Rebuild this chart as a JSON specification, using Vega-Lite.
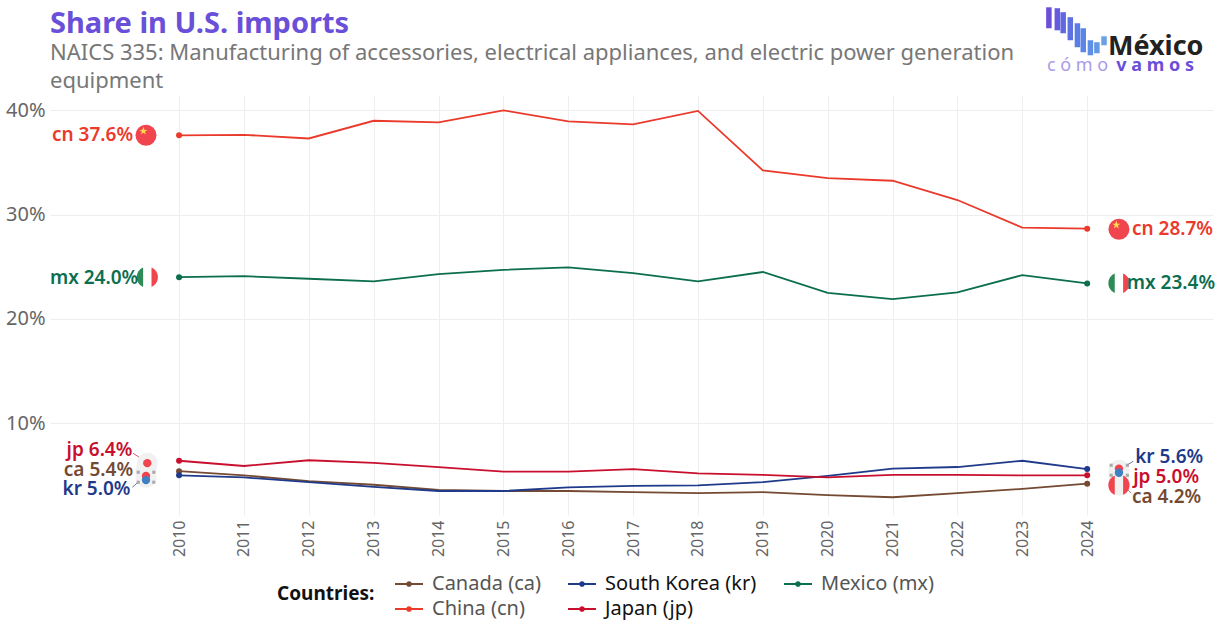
{"$schema":"https://vega.github.io/schema/vega-lite/v6.json","width":1163,"height":420,"autosize":"none","padding":{"left":50,"top":95,"right":12,"bottom":108},"background":"white","config":{"font":"Noto Sans","view":{"stroke":null}},"title":{"text":"Share in U.S. imports","subtitle":["NAICS 335: Manufacturing of accessories, electrical appliances, and electric power generation","equipment"],"anchor":"start","frame":"group","fontSize":29,"fontWeight":"bold","color":"#6a4fd8","subtitleFontSize":22,"subtitleColor":"#777777","subtitleFontWeight":"normal","subtitleLineHeight":28,"subtitlePadding":4,"offset":-87},"datasets":{"series":[{"year":2010,"share":37.6,"country":"China (cn)"},{"year":2011,"share":37.65,"country":"China (cn)"},{"year":2012,"share":37.3,"country":"China (cn)"},{"year":2013,"share":39.0,"country":"China (cn)"},{"year":2014,"share":38.85,"country":"China (cn)"},{"year":2015,"share":40.0,"country":"China (cn)"},{"year":2016,"share":38.95,"country":"China (cn)"},{"year":2017,"share":38.65,"country":"China (cn)"},{"year":2018,"share":39.95,"country":"China (cn)"},{"year":2019,"share":34.25,"country":"China (cn)"},{"year":2020,"share":33.5,"country":"China (cn)"},{"year":2021,"share":33.25,"country":"China (cn)"},{"year":2022,"share":31.4,"country":"China (cn)"},{"year":2023,"share":28.75,"country":"China (cn)"},{"year":2024,"share":28.65,"country":"China (cn)"},{"year":2010,"share":24.0,"country":"Mexico (mx)"},{"year":2011,"share":24.1,"country":"Mexico (mx)"},{"year":2012,"share":23.85,"country":"Mexico (mx)"},{"year":2013,"share":23.6,"country":"Mexico (mx)"},{"year":2014,"share":24.3,"country":"Mexico (mx)"},{"year":2015,"share":24.7,"country":"Mexico (mx)"},{"year":2016,"share":24.95,"country":"Mexico (mx)"},{"year":2017,"share":24.4,"country":"Mexico (mx)"},{"year":2018,"share":23.6,"country":"Mexico (mx)"},{"year":2019,"share":24.5,"country":"Mexico (mx)"},{"year":2020,"share":22.5,"country":"Mexico (mx)"},{"year":2021,"share":21.9,"country":"Mexico (mx)"},{"year":2022,"share":22.55,"country":"Mexico (mx)"},{"year":2023,"share":24.2,"country":"Mexico (mx)"},{"year":2024,"share":23.4,"country":"Mexico (mx)"},{"year":2010,"share":5.4,"country":"Canada (ca)"},{"year":2011,"share":5.0,"country":"Canada (ca)"},{"year":2012,"share":4.45,"country":"Canada (ca)"},{"year":2013,"share":4.1,"country":"Canada (ca)"},{"year":2014,"share":3.6,"country":"Canada (ca)"},{"year":2015,"share":3.5,"country":"Canada (ca)"},{"year":2016,"share":3.5,"country":"Canada (ca)"},{"year":2017,"share":3.4,"country":"Canada (ca)"},{"year":2018,"share":3.3,"country":"Canada (ca)"},{"year":2019,"share":3.4,"country":"Canada (ca)"},{"year":2020,"share":3.1,"country":"Canada (ca)"},{"year":2021,"share":2.9,"country":"Canada (ca)"},{"year":2022,"share":3.3,"country":"Canada (ca)"},{"year":2023,"share":3.7,"country":"Canada (ca)"},{"year":2024,"share":4.2,"country":"Canada (ca)"},{"year":2010,"share":5.0,"country":"South Korea (kr)"},{"year":2011,"share":4.8,"country":"South Korea (kr)"},{"year":2012,"share":4.35,"country":"South Korea (kr)"},{"year":2013,"share":3.9,"country":"South Korea (kr)"},{"year":2014,"share":3.5,"country":"South Korea (kr)"},{"year":2015,"share":3.5,"country":"South Korea (kr)"},{"year":2016,"share":3.85,"country":"South Korea (kr)"},{"year":2017,"share":4.0,"country":"South Korea (kr)"},{"year":2018,"share":4.05,"country":"South Korea (kr)"},{"year":2019,"share":4.35,"country":"South Korea (kr)"},{"year":2020,"share":4.95,"country":"South Korea (kr)"},{"year":2021,"share":5.65,"country":"South Korea (kr)"},{"year":2022,"share":5.8,"country":"South Korea (kr)"},{"year":2023,"share":6.4,"country":"South Korea (kr)"},{"year":2024,"share":5.6,"country":"South Korea (kr)"},{"year":2010,"share":6.4,"country":"Japan (jp)"},{"year":2011,"share":5.9,"country":"Japan (jp)"},{"year":2012,"share":6.45,"country":"Japan (jp)"},{"year":2013,"share":6.2,"country":"Japan (jp)"},{"year":2014,"share":5.8,"country":"Japan (jp)"},{"year":2015,"share":5.35,"country":"Japan (jp)"},{"year":2016,"share":5.35,"country":"Japan (jp)"},{"year":2017,"share":5.6,"country":"Japan (jp)"},{"year":2018,"share":5.2,"country":"Japan (jp)"},{"year":2019,"share":5.05,"country":"Japan (jp)"},{"year":2020,"share":4.8,"country":"Japan (jp)"},{"year":2021,"share":5.05,"country":"Japan (jp)"},{"year":2022,"share":5.05,"country":"Japan (jp)"},{"year":2023,"share":5.0,"country":"Japan (jp)"},{"year":2024,"share":5.0,"country":"Japan (jp)"}],"labels":[{"year":2009.29,"share":37.6,"country":"China (cn)","text":"cn 37.6%","side":"L"},{"year":2009.37,"share":23.9,"country":"Mexico (mx)","text":"mx 24.0%","side":"L"},{"year":2009.28,"share":7.41,"country":"Japan (jp)","text":"jp 6.4%","side":"L"},{"year":2009.29,"share":5.49,"country":"Canada (ca)","text":"ca 5.4%","side":"L"},{"year":2009.25,"share":3.67,"country":"South Korea (kr)","text":"kr 5.0%","side":"L"},{"year":2024.69,"share":28.6,"country":"China (cn)","text":"cn 28.7%","side":"R"},{"year":2024.61,"share":23.42,"country":"Mexico (mx)","text":"mx 23.4%","side":"R"},{"year":2024.74,"share":6.74,"country":"South Korea (kr)","text":"kr 5.6%","side":"R"},{"year":2024.71,"share":4.82,"country":"Japan (jp)","text":"jp 5.0%","side":"R"},{"year":2024.69,"share":2.9,"country":"Canada (ca)","text":"ca 4.2%","side":"R"}],"links":[{"year":2009.29,"year2":2009.41,"share":7.12,"share2":6.64,"country":"Japan (jp)"},{"year":2009.28,"year2":2009.4,"share":3.86,"share2":4.53,"country":"South Korea (kr)"},{"year":2024.71,"year2":2024.59,"share":6.36,"share2":5.88,"country":"South Korea (kr)"},{"year":2024.68,"year2":2024.62,"share":3.29,"share2":3.67,"country":"Canada (ca)"}],"discs":[{"year":2009.49,"share":37.61,"part":"red"},{"year":2024.49,"share":28.6,"part":"red"},{"year":2009.51,"share":24.0,"part":"white"},{"year":2024.49,"share":23.42,"part":"white"},{"year":2009.51,"share":6.17,"part":"pale"},{"year":2009.49,"share":5.49,"part":"pale"},{"year":2009.49,"share":4.82,"part":"pale"},{"year":2024.49,"share":5.49,"part":"pale"},{"year":2024.49,"share":4.82,"part":"pale"},{"year":2024.49,"share":4.06,"part":"pale"}],"spots":[{"year":2009.51,"share":6.17,"part":"red"},{"year":2009.49,"share":4.95,"part":"red"},{"year":2009.49,"share":4.55,"part":"blue"},{"year":2024.49,"share":5.65,"part":"red"},{"year":2024.49,"share":5.25,"part":"blue"}],"stars":[{"year":2009.45,"share":38.0,"part":"yellow"},{"year":2024.45,"share":29.0,"part":"yellow"}],"leftCaps":[{"year":2009.51,"share":24.0,"part":"green"},{"year":2024.49,"share":23.42,"part":"green"},{"year":2024.49,"share":4.06,"part":"red"}],"rightCaps":[{"year":2009.51,"share":24.0,"part":"red"},{"year":2024.49,"share":23.42,"part":"red"},{"year":2024.49,"share":4.06,"part":"red"}],"trigrams":[{"year":2009.37,"share":5.3,"part":"grey"},{"year":2009.61,"share":5.3,"part":"grey"},{"year":2009.37,"share":4.34,"part":"grey"},{"year":2009.61,"share":4.34,"part":"grey"},{"year":2024.37,"share":5.97,"part":"grey"},{"year":2024.62,"share":5.97,"part":"grey"},{"year":2024.37,"share":5.01,"part":"grey"},{"year":2024.62,"share":5.01,"part":"grey"}],"logoBars":[{"year":2023.41,"share":49.88,"share2":47.87,"step":1},{"year":2023.54,"share":49.79,"share2":47.67,"step":2},{"year":2023.63,"share":49.41,"share2":47.39,"step":3},{"year":2023.74,"share":48.93,"share2":46.72,"step":4},{"year":2023.85,"share":48.35,"share2":46.05,"step":5},{"year":2023.94,"share":47.87,"share2":45.57,"step":6},{"year":2024.05,"share":46.72,"share2":45.28,"step":7},{"year":2024.15,"share":46.53,"share2":45.47,"step":8},{"year":2024.26,"share":47.1,"share2":46.24,"step":9}]},"layer":[{"data":{"name":"series"},"mark":{"type":"line","strokeWidth":1.8,"interpolate":"linear"},"encoding":{"x":{"field":"year","type":"quantitative","scale":{"domain":[2008.01,2025.94],"nice":false,"zero":false},"axis":{"values":[2010,2011,2012,2013,2014,2015,2016,2017,2018,2019,2020,2021,2022,2023,2024],"format":"d","title":null,"labelAngle":-90,"labelAlign":"right","labelBaseline":"middle","labelFontSize":16,"labelColor":"#666666","labelPadding":5,"domain":false,"ticks":false,"grid":true,"gridColor":"#eeeeee","labelOverlap":false}},"y":{"field":"share","type":"quantitative","scale":{"domain":[1.2,41.47],"nice":false,"zero":false},"axis":{"values":[10,20,30,40],"labelExpr":"datum.value + '%'","title":null,"labelFontSize":20,"labelColor":"#666666","labelPadding":5,"domain":false,"ticks":false,"grid":true,"gridColor":"#eeeeee"}},"color":{"field":"country","type":"nominal","sort":null,"scale":{"domain":["Canada (ca)","China (cn)","South Korea (kr)","Japan (jp)","Mexico (mx)"],"range":["#744a33","#ea3a2b","#1f3a8a","#c8102e","#0b6e4f"]},"legend":{"orient":"none","legendX":227,"legendY":474,"direction":"vertical","columns":3,"title":"Countries:","titleOrient":"left","titleFontSize":19,"titleFontWeight":"bold","titleColor":"#111111","titlePadding":19,"labelFontSize":20,"labelOffset":8,"rowPadding":-1,"columnPadding":23,"symbolType":"M-1,0L-.14,0A.14,.14 0 1 1 .14,0L1,0M.14,0A.14,.14 0 1 1 -.14,0","symbolSize":784,"symbolStrokeWidth":1.8,"encode":{"labels":{"update":{"fill":{"signal":"indexof(['South Korea (kr)','Japan (jp)'],datum.value)>=0 ? '#111111' : '#555555'"}}}}}}}},{"data":{"name":"series"},"transform":[{"filter":"datum.year==2010 || datum.year==2024"}],"mark":{"type":"point","filled":true,"opacity":1,"size":36},"encoding":{"x":{"field":"year","type":"quantitative"},"y":{"field":"share","type":"quantitative"},"color":{"field":"country","type":"nominal","legend":null}}},{"data":{"name":"links"},"mark":{"type":"rule","strokeWidth":1,"opacity":0.7},"encoding":{"x":{"field":"year","type":"quantitative"},"x2":{"field":"year2"},"y":{"field":"share","type":"quantitative"},"y2":{"field":"share2"},"color":{"field":"country","type":"nominal","legend":null}}},{"data":{"name":"discs"},"mark":{"type":"point","shape":"circle","filled":true,"opacity":1,"size":441},"encoding":{"x":{"field":"year","type":"quantitative"},"y":{"field":"share","type":"quantitative"},"fill":{"field":"part","type":"nominal","legend":null,"scale":{"domain":["red","white","pale","yellow","green","blue","grey"],"range":["#f0444f","#ffffff","#f1f1f1","#ffd84d","#2e8b57","#3f7fc4","#9a9a9a"]}}}},{"data":{"name":"leftCaps"},"mark":{"type":"point","filled":true,"opacity":1,"size":441,"shape":"M-.4,-.92A1,1 0 0 0 -.4,.92Z"},"encoding":{"x":{"field":"year","type":"quantitative"},"y":{"field":"share","type":"quantitative"},"fill":{"field":"part","type":"nominal","legend":null}}},{"data":{"name":"rightCaps"},"mark":{"type":"point","filled":true,"opacity":1,"size":441,"shape":"M.4,-.92A1,1 0 0 1 .4,.92Z"},"encoding":{"x":{"field":"year","type":"quantitative"},"y":{"field":"share","type":"quantitative"},"fill":{"field":"part","type":"nominal","legend":null}}},{"data":{"name":"spots"},"mark":{"type":"point","shape":"circle","filled":true,"opacity":1,"size":70},"encoding":{"x":{"field":"year","type":"quantitative"},"y":{"field":"share","type":"quantitative"},"fill":{"field":"part","type":"nominal","legend":null}}},{"data":{"name":"trigrams"},"mark":{"type":"point","shape":"square","filled":true,"opacity":0.8,"size":10},"encoding":{"x":{"field":"year","type":"quantitative"},"y":{"field":"share","type":"quantitative"},"fill":{"field":"part","type":"nominal","legend":null}}},{"data":{"name":"stars"},"mark":{"type":"point","filled":true,"opacity":1,"size":70,"shape":"M0,-1L.29,-.31L.95,-.31L.36,.12L.59,.81L0,.38L-.59,.81L-.36,.12L-.95,-.31L-.29,-.31Z"},"encoding":{"x":{"field":"year","type":"quantitative"},"y":{"field":"share","type":"quantitative"},"fill":{"field":"part","type":"nominal","legend":null}}},{"data":{"name":"labels"},"transform":[{"filter":"datum.side=='L'"}],"mark":{"type":"text","align":"right","baseline":"middle","fontSize":19,"fontWeight":600},"encoding":{"x":{"field":"year","type":"quantitative"},"y":{"field":"share","type":"quantitative"},"text":{"field":"text","type":"nominal"},"color":{"field":"country","type":"nominal","legend":null}}},{"data":{"name":"labels"},"transform":[{"filter":"datum.side=='R'"}],"mark":{"type":"text","align":"left","baseline":"middle","fontSize":19,"fontWeight":600},"encoding":{"x":{"field":"year","type":"quantitative"},"y":{"field":"share","type":"quantitative"},"text":{"field":"text","type":"nominal"},"color":{"field":"country","type":"nominal","legend":null}}},{"data":{"name":"logoBars"},"mark":{"type":"rule","strokeWidth":5.5},"encoding":{"x":{"field":"year","type":"quantitative"},"y":{"field":"share","type":"quantitative"},"y2":{"field":"share2"},"stroke":{"field":"step","type":"quantitative","legend":null,"scale":{"domain":[1,9],"range":["#6a4fd8","#6aa0e4"]}}}},{"data":{"values":[{"year":2024.32,"share":46.05,"text":"México"}]},"mark":{"type":"text","align":"left","baseline":"middle","fontSize":27,"fontWeight":"bold","color":"#222222"},"encoding":{"x":{"field":"year","type":"quantitative"},"y":{"field":"share","type":"quantitative"},"text":{"field":"text","type":"nominal"}}},{"data":{"values":[{"year":2023.38,"share":44.23,"text":"c ó m o"}]},"mark":{"type":"text","align":"left","baseline":"middle","fontSize":18,"color":"#a99be8"},"encoding":{"x":{"field":"year","type":"quantitative"},"y":{"field":"share","type":"quantitative"},"text":{"field":"text","type":"nominal"}}},{"data":{"values":[{"year":2024.45,"share":44.23,"text":"v a m o s"}]},"mark":{"type":"text","align":"left","baseline":"middle","fontSize":18,"fontWeight":"bold","color":"#6a4fd8"},"encoding":{"x":{"field":"year","type":"quantitative"},"y":{"field":"share","type":"quantitative"},"text":{"field":"text","type":"nominal"}}}]}
